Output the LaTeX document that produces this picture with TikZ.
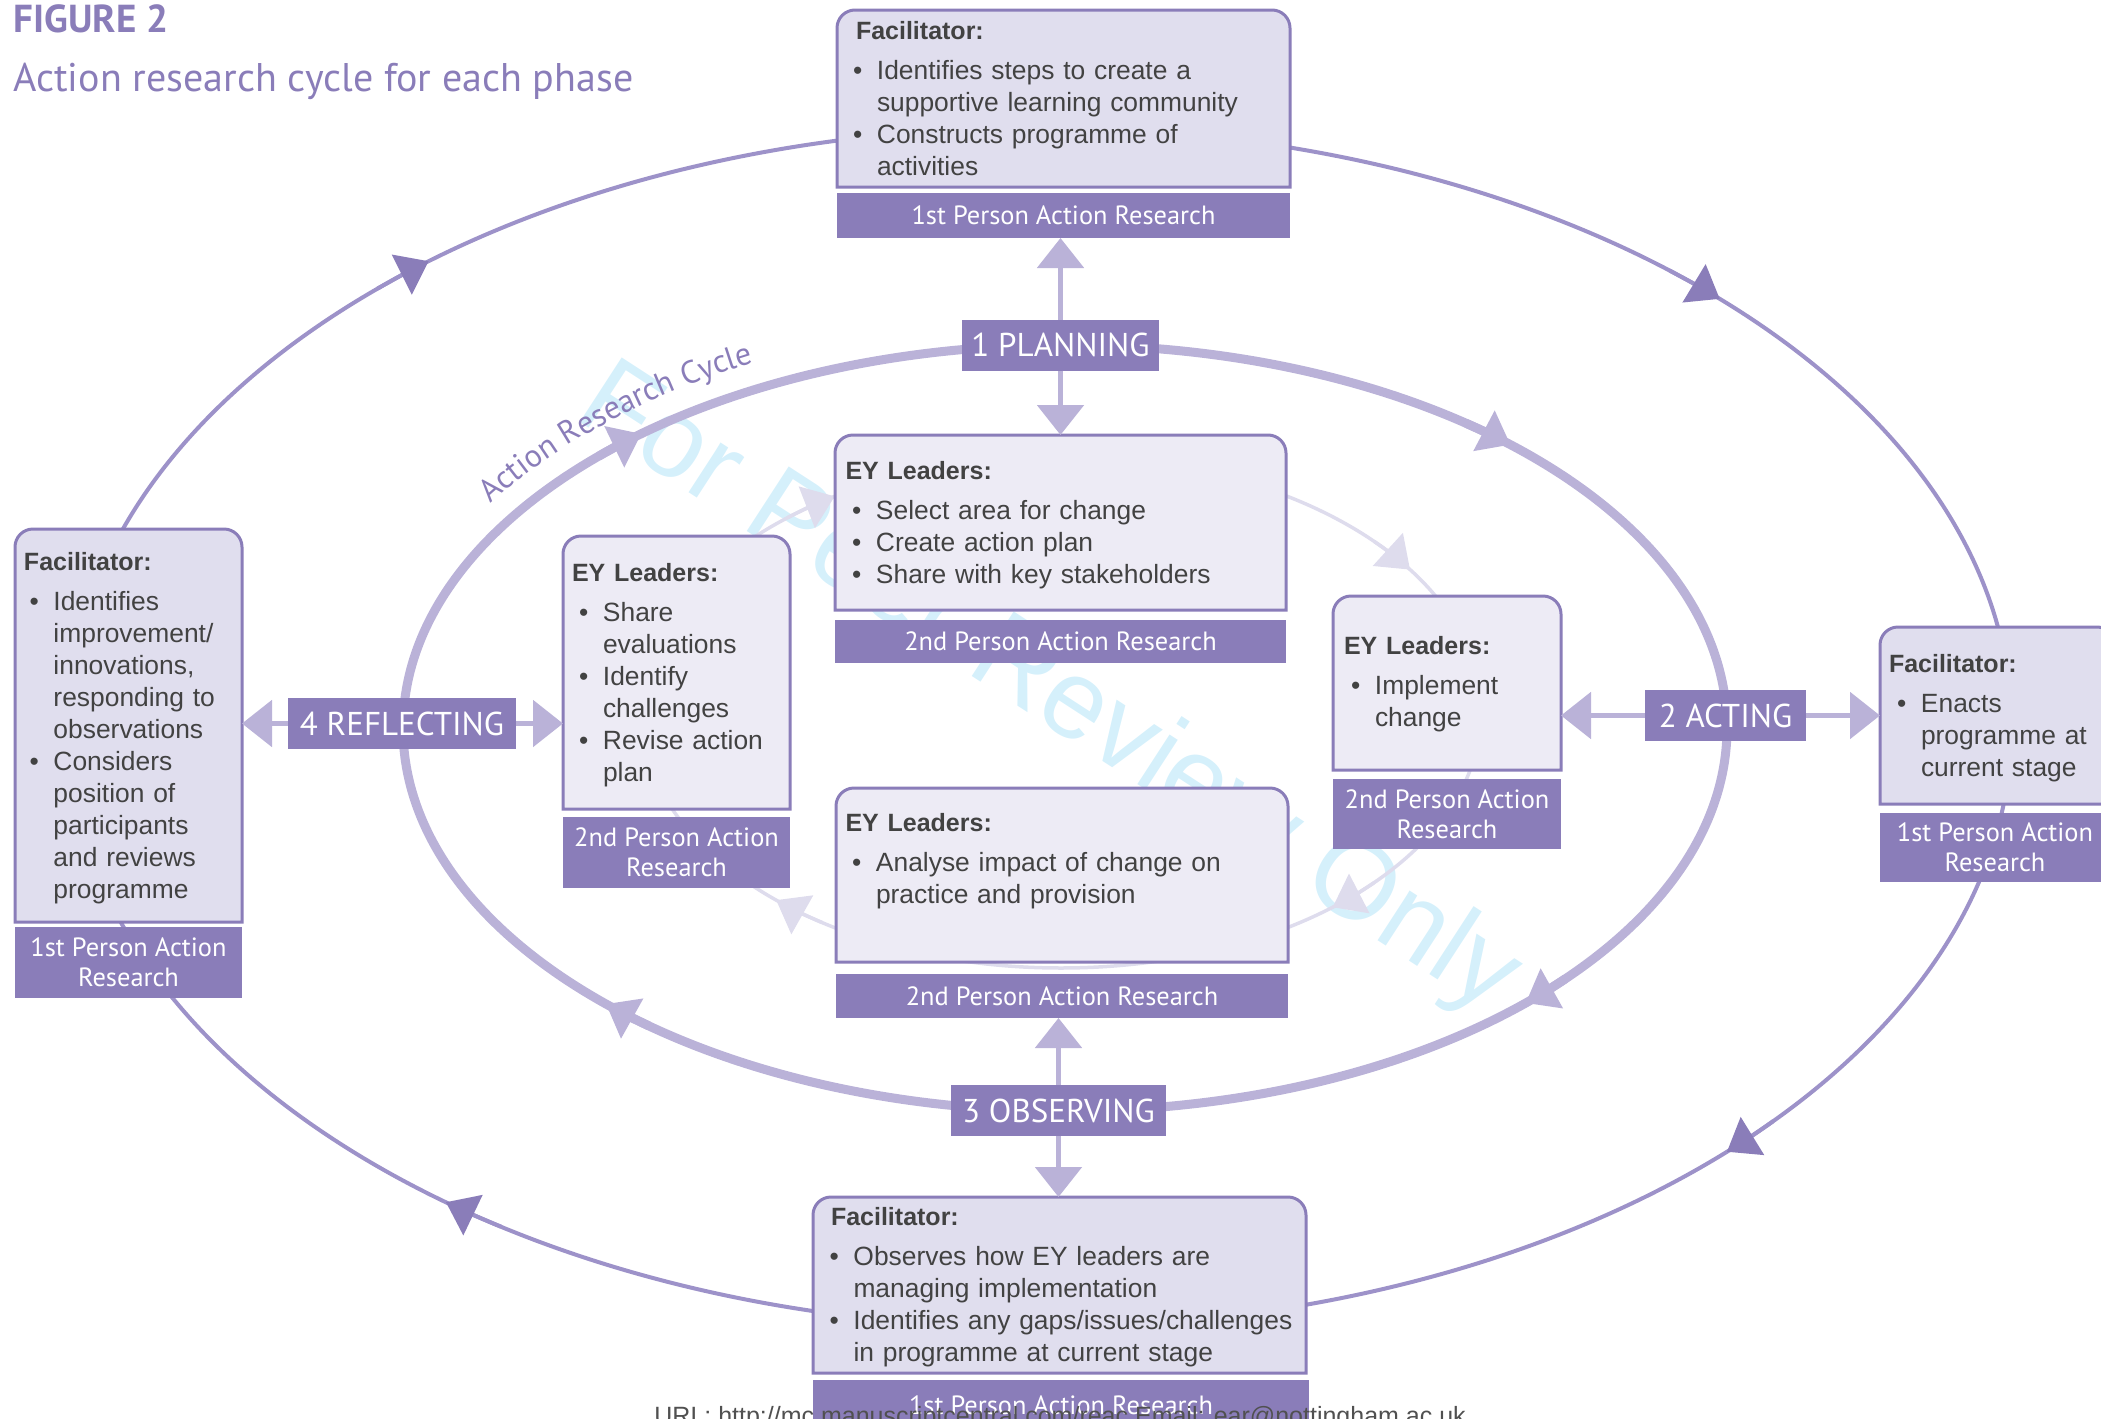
\documentclass[tikz,border=0pt]{standalone}
\usepackage{fontspec}
\setmainfont{Liberation Sans}
\newfontfamily\labf{PT Sans}
\usetikzlibrary{arrows.meta,decorations.text,fit}
\definecolor{purp}{RGB}{138,125,185}
\definecolor{outl}{RGB}{157,146,201}
\definecolor{lav}{RGB}{186,178,216}
\definecolor{pale}{RGB}{222,220,237}
\definecolor{facfill}{RGB}{224,222,238}
\definecolor{eyfill}{RGB}{237,235,245}
\definecolor{txt}{RGB}{66,66,66}
\definecolor{wm}{RGB}{213,240,251}
\definecolor{urlc}{RGB}{80,80,80}
\newlength\bulletoff
\newcommand\bitem[1]{\par\noindent\hspace*{\bulletoff}\hangindent=\dimexpr\bulletoff+12pt\relax\hangafter=1\makebox[12pt][l]{•}#1}
\newcommand\hd[1]{{\fontsize{12.5}{16}\selectfont\bfseries #1\par}\vspace{4pt}}
% box with rounded top corners: name, x1, y1, x2, y2, fill
\newcommand\tbox[6]{%
  \draw[line width=1.5pt, draw=purp, fill=#6] (#2,#5) -- (#2,#3+18) arc[start angle=180,end angle=270,radius=18] -- (#4-18,#3) arc[start angle=270,end angle=360,radius=18] -- (#4,#5) -- cycle;
  \node[fit={(#2,#3)(#4,#5)}, inner sep=0pt, outer sep=0pt] (#1) {};}
% label bar: name, x1,y1,x2,y2, text
\newcommand\lbar[6]{\node[fill=purp, text=white, font=\labf\fontsize{13.2}{14.8}\selectfont, align=center, inner sep=0pt, outer sep=0pt, minimum width={(#4-#2)*0.5pt}, minimum height={(#5-#3)*0.5pt}] (#1) at ({(#2+#4)/2},{(#3+#5)/2}) {#6};}
% box text: name, x, baseline y, bullet offset, content
\newcommand\boxtext[5]{\node[anchor=base west, inner sep=0pt, outer sep=0pt, text width=300pt, align=left, font=\fontsize{13.2}{16}\selectfont, text=txt] (#1) at (#2,#3) {\setlength\bulletoff{#4}#5\par};}
\tikzset{
  outerline/.style={line width=2pt, draw=outl},
  thickline/.style={line width=4.5pt, draw=lav},
  lightline/.style={line width=1.75pt, draw=pale},
  parr/.style={line width=2.75pt, draw=lav, -{Triangle[length=15pt,width=23pt,color=lav]}},
  phase/.style={fill=purp, text=white, font=\labf\fontsize{16.5}{18}\selectfont, inner sep=0pt, outer sep=0pt, minimum height=25.5pt}
}
\begin{document}
\begin{tikzpicture}[x=0.5pt,y=-0.5pt]
\useasboundingbox (0,0) rectangle (2101,1419);
\clip (0,0) rectangle (2101,1419);
% watermark
\node[rotate=-33, anchor=base, text=wm, font=\fontsize{56}{60}\selectfont, inner sep=0pt] (wmk) at (1032,716) {For Peer Review Only};
% outer cycle
\draw[outerline] (1040,727.5) ellipse [x radius=971.5, y radius=600];
\foreach \myang in {45,127.7,231,314.4}{
  \draw[outerline, -{Triangle[length=15pt,width=22pt,color=purp]}] ([shift={(1040,727.5)}]{\myang-4}:971.5 and 600) arc[start angle={\myang-4}, end angle=\myang, x radius=971.5, y radius=600];}
% action research cycle (thick)
\draw[thickline] (1065,728) ellipse [x radius=662, y radius=383];
\foreach \myang in {45.9,133.9,230.2,312.3}{
  \draw[thickline, -{Triangle[length=15pt,width=22pt,color=lav]}] ([shift={(1065,728)}]{\myang-5}:662 and 383) arc[start angle={\myang-5}, end angle=\myang, x radius=662, y radius=383];}
\path[decorate, decoration={text along path, text={|\labf\fontsize{16}{18}\selectfont|Action Research Cycle}, text color=purp, text align=center}] ([shift={(1065,728)}]201:686 and 410) arc[start angle=201, end angle=252, x radius=686, y radius=410];
% light inner cycle
\draw[lightline] (1061,712) ellipse [x radius=420, y radius=256];
\foreach \myang in {49.7,132.7,237.4,326.2}{
  \draw[lightline, -{Triangle[length=15pt,width=22pt,color=pale]}] ([shift={(1061,712)}]{\myang-8}:420 and 256) arc[start angle={\myang-8}, end angle=\myang, x radius=420, y radius=256];}
% title
\node[anchor=base west, inner sep=0pt, text=purp, font=\labf\bfseries\fontsize{19.5}{21}\selectfont] (title) at (13,32) {FIGURE 2};
\node[anchor=base west, inner sep=0pt, text=purp, font=\labf\fontsize{20}{22}\selectfont] (subtitle) at (13,91) {Action research cycle for each phase};
% boxes
\tbox{tf}{837}{10}{1290}{187}{facfill}
\lbar{tfl}{837}{193}{1290}{238}{1st Person Action Research}
\boxtext{tft}{856}{39}{-1.5pt}{\hd{Facilitator:}\bitem{Identifies steps to create a\newline supportive learning community}\bitem{Constructs programme of\newline activities}}

\tbox{te}{835}{435}{1286}{610}{eyfill}
\lbar{tel}{835}{620}{1286}{663}{2nd Person Action Research}
\boxtext{tet}{845.5}{479}{3.25pt}{\hd{EY Leaders:}\bitem{Select area for change}\bitem{Create action plan}\bitem{Share with key stakeholders}}

\tbox{le}{563}{536}{790}{809}{eyfill}
\lbar{lel}{563}{817}{790}{888}{2nd Person Action\\Research}
\boxtext{let}{572}{581}{3.5pt}{\hd{EY Leaders:}\bitem{Share\newline evaluations}\bitem{Identify\newline challenges}\bitem{Revise action\newline plan}}

\tbox{re}{1333}{596}{1561}{770}{eyfill}
\lbar{rel}{1333}{779}{1561}{849}{2nd Person Action\\Research}
\boxtext{ret}{1344}{654.5}{3.5pt}{\hd{EY Leaders:}\bitem{Implement\newline change}}

\tbox{be}{836}{788}{1288}{962}{eyfill}
\lbar{bel}{836}{974}{1288}{1018}{2nd Person Action Research}
\boxtext{bet}{845.5}{831.5}{3.25pt}{\hd{EY Leaders:}\bitem{Analyse impact of change on\newline practice and provision}}

\tbox{lf}{15}{529}{242}{922}{facfill}
\lbar{lfl}{15}{927}{242}{998}{1st Person Action\\Research}
\boxtext{lft}{24}{570.5}{2.75pt}{\hd{Facilitator:}\bitem{Identifies\newline improvement/\newline innovations,\newline responding to\newline observations}\bitem{Considers\newline position of\newline participants\newline and reviews\newline programme}}

\tbox{rf}{1880}{627}{2115}{804}{facfill}
\lbar{rfl}{1880}{813}{2110}{882}{1st Person Action\\Research}
\boxtext{rft}{1889}{672}{4pt}{\hd{Facilitator:}\bitem{Enacts\newline programme at\newline current stage}}

\tbox{bf}{813}{1197}{1306}{1373}{facfill}
\lbar{bfl}{813}{1380}{1309}{1430}{1st Person Action Research}
\boxtext{bft}{831}{1225.5}{-0.75pt}{\hd{Facilitator:}\bitem{Observes how EY leaders are\newline managing implementation}\bitem{Identifies any gaps/issues/challenges\newline in programme at current stage}}

% phase labels
\node[phase, minimum width=98.5pt] (plan) at (1060.5,345) {1 PLANNING};
\node[phase, minimum width=114pt] (refl) at (402,723.5) {4 REFLECTING};
\node[phase, minimum width=80.5pt] (act) at (1725.5,715.5) {2 ACTING};
\node[phase, minimum width=107.5pt] (obs) at (1058.5,1110.5) {3 OBSERVING};
% phase arrows
\draw[parr] (plan.north) -- (plan.north |- tfl.south);
\draw[parr] (plan.south) -- (plan.south |- te.north);
\draw[parr] (refl.west) -- (refl.west -| lf.east);
\draw[parr] (refl.east) -- (refl.east -| le.west);
\draw[parr] (act.west) -- (act.west -| re.east);
\draw[parr] (act.east) -- (act.east -| rf.west);
\draw[parr] (obs.north) -- (obs.north |- bel.south);
\draw[parr] (obs.south) -- (obs.south |- bf.north);
% footer
\node[anchor=base west, inner sep=0pt, text=urlc, font=\fontsize{12.5}{14}\selectfont] (url) at (654,1424) {URL: http://mc.manuscriptcentral.com/reac Email: ear@nottingham.ac.uk};
\end{tikzpicture}
\end{document}
